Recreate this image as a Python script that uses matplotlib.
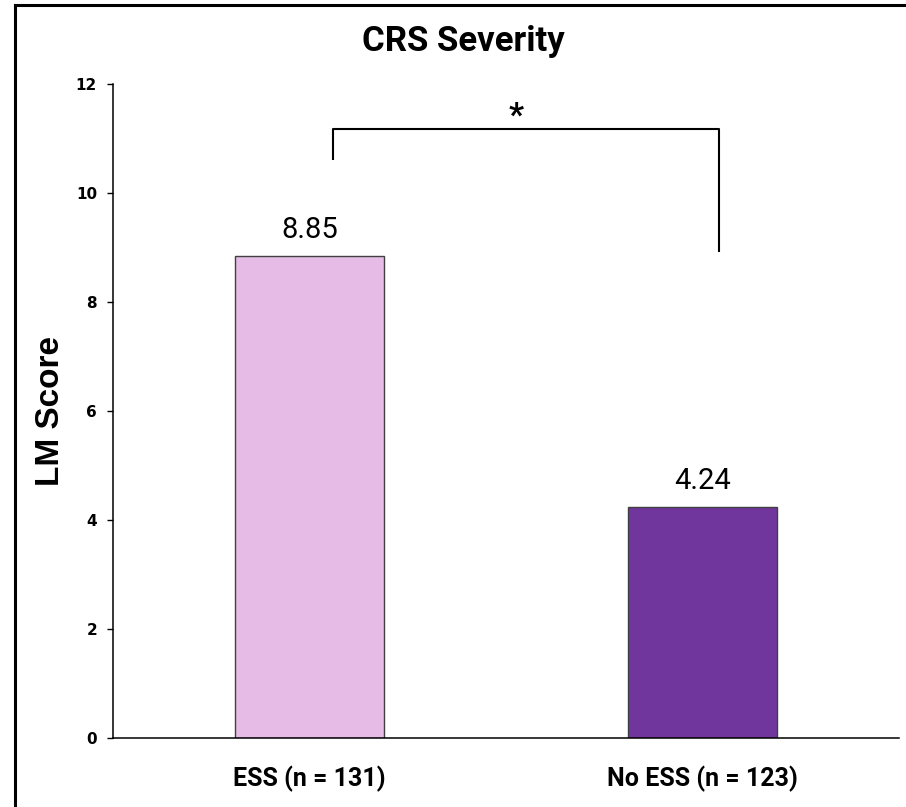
import matplotlib.pyplot as plt
from matplotlib.lines import Line2D

groups = ['ESS (n = 131)', 'No ESS (n = 123)']
scores = [8.85, 4.24]
bar_colors = ['#e6bce6', '#70369d']
yticks = [0, 2, 4, 6, 8, 10, 12]

fig = plt.figure(figsize=(9.06, 8.07), dpi=100)
ax = fig.add_axes([113 / 906, 1 - 738 / 807, (899 - 113) / 906, (738 - 84) / 807])

x = [0, 1]
ax.bar(x, scores, width=0.377, color=bar_colors, edgecolor='#404040', linewidth=1.0)

# value labels
for xi, v in zip(x, scores):
    ax.text(xi, v + 0.47, '%.2f' % v, ha='center', va='center',
            fontsize=21, family='Roboto')

# significance bracket
ax.plot([0.06, 0.06, 1.041, 1.041], [10.61, 11.17, 11.17, 8.92],
        color='black', linewidth=1.5, solid_capstyle='butt')
ax.text(0.526, 11.40, '*', ha='center', va='center', fontsize=24,
        fontweight='bold', family='Roboto')

ax.set_xlim(-0.5, 1.5)
ax.set_ylim(0, 12)
ax.set_yticks(yticks)
ax.set_yticklabels([str(t) for t in yticks], fontsize=11, family='DejaVu Sans',
                   fontweight='semibold')
ax.tick_params(axis='y', direction='out', length=4.5, width=1.0, pad=7)
ax.set_xticks(x)
ax.set_xticklabels(groups, fontsize=18, fontweight='bold', family='Roboto')
ax.tick_params(axis='x', length=0, pad=20)

for s in ['top', 'right']:
    ax.spines[s].set_visible(False)
for s in ['left', 'bottom']:
    ax.spines[s].set_linewidth(1.1)

fig.text(463 / 906, 1 - 42 / 807, 'CRS Severity', ha='center', va='center',
         fontsize=25, fontweight='bold', family='Roboto')
fig.text(51 / 906, 1 - 411 / 807, 'LM Score', ha='center', va='center',
         rotation=90, fontsize=24, fontweight='bold', family='Liberation Sans')

# partial frame around the picture
fig.add_artist(Line2D([15 / 906, 15 / 906], [0, 1 - 5 / 807], color='black',
                      linewidth=2.2, transform=fig.transFigure))
fig.add_artist(Line2D([15 / 906, 1], [1 - 5 / 807, 1 - 5 / 807], color='black',
                      linewidth=2.2, transform=fig.transFigure))

fig.savefig('out.png', dpi=100)
